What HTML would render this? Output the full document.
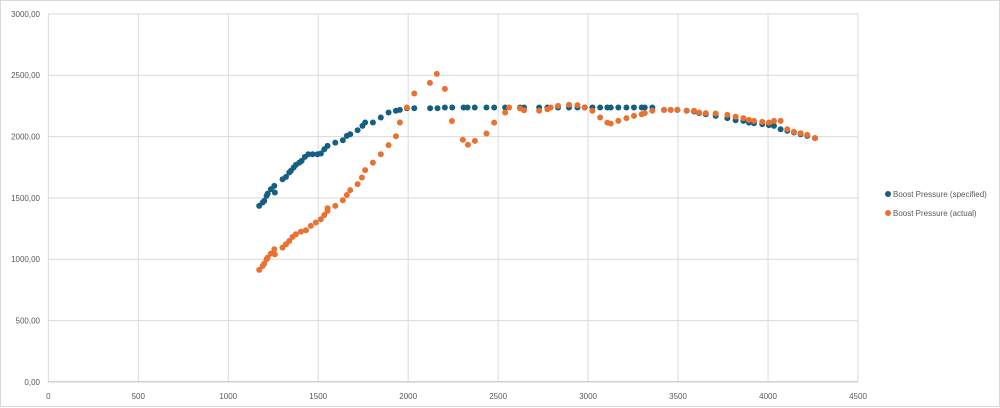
<!DOCTYPE html>
<html><head><meta charset="utf-8"><style>
html,body{margin:0;padding:0;background:#fff;}
#chart{position:absolute;left:0;top:0;width:1000px;height:407px;border:1px solid #d9d9d9;box-sizing:border-box;}
svg{position:absolute;left:0;top:0;font-family:"Liberation Sans",sans-serif;}
</style></head><body>
<div id="chart">
<svg id="svg" width="1000" height="407"></svg>
</div>
<script>
const xTicks=[0,500,1000,1500,2000,2500,3000,3500,4000,4500];
const yTicks=[0,500,1000,1500,2000,2500,3000];
const yTickLabels=["0,00","500,00","1000,00","1500,00","2000,00","2500,00","3000,00"];
const seriesNames=["Boost Pressure (specified)","Boost Pressure (actual)"];
const specX=[1172,1191,1200,1213,1219,1237,1256,1259,1302,1321,1339,1348,1363,1376,1395,1408,1426,1445,1469,1496,1515,1534,1552,1595,1637,1659,1678,1719,1746,1761,1804,1848,1891,1932,1954,1993,2034,2122,2163,2204,2245,2308,2330,2370,2435,2478,2539,2622,2644,2728,2774,2833,2894,2941,2981,3024,3067,3107,3126,3168,3213,3255,3298,3315,3357,3422,3459,3496,3548,3589,3617,3654,3709,3774,3820,3863,3894,3922,3968,4005,4033,4070,4107,4144,4181,4218,4261];
const specY=[1435,1462,1476,1516,1535,1571,1598,1544,1652,1671,1707,1720,1747,1769,1788,1802,1834,1856,1856,1856,1862,1897,1924,1951,1970,2006,2019,2052,2087,2115,2115,2155,2196,2210,2218,2231,2231,2231,2231,2237,2237,2237,2237,2237,2237,2237,2237,2237,2237,2237,2237,2237,2237,2237,2237,2237,2237,2237,2237,2237,2237,2237,2237,2237,2237,2218,2218,2218,2210,2204,2191,2182,2169,2150,2133,2128,2114,2109,2101,2093,2087,2060,2047,2033,2019,2006,1987];
const actX=[1172,1191,1200,1213,1219,1237,1256,1259,1302,1321,1339,1358,1376,1404,1432,1459,1487,1515,1534,1552,1552,1595,1637,1659,1678,1719,1743,1761,1804,1848,1891,1932,1954,1993,2034,2121,2159,2204,2243,2304,2332,2371,2435,2478,2539,2561,2622,2644,2728,2774,2792,2833,2894,2941,2981,3024,3067,3107,3126,3168,3213,3255,3298,3315,3357,3422,3459,3496,3548,3589,3617,3654,3709,3774,3820,3863,3894,3922,3968,4005,4033,4070,4107,4144,4181,4218,4261];
const actY=[913,945,964,1000,1013,1046,1081,1040,1095,1122,1149,1182,1204,1225,1236,1272,1299,1326,1361,1394,1416,1435,1481,1524,1563,1612,1666,1726,1788,1856,1930,2003,2115,2237,2351,2438,2511,2389,2127,1974,1933,1965,2025,2114,2196,2237,2229,2215,2210,2223,2237,2250,2259,2256,2237,2210,2155,2114,2106,2128,2150,2169,2182,2191,2210,2218,2218,2218,2210,2210,2196,2191,2188,2177,2163,2150,2136,2128,2120,2114,2128,2128,2060,2038,2027,2014,1987];
const colors=["#156082","#E97132"];
const NS="http://www.w3.org/2000/svg";
const svg=document.getElementById('svg');
const X0=47.3,XW=809.7,Y0=380.9,YH=368;
function sx(v){return X0+v/4500*XW;}
function sy(v){return Y0-v/3000*YH;}
function mk(tag,attrs){const e=document.createElementNS(NS,tag);for(const k in attrs)e.setAttribute(k,attrs[k]);svg.appendChild(e);return e;}
xTicks.forEach((t,i)=>{
  const l=mk('line',{x1:sx(t),x2:sx(t),y1:sy(3000),y2:sy(0),stroke:'#d9d9d9','stroke-width':1});
  
  
  const tx=mk('text',{x:sx(t),y:398,'font-size':8,fill:'#595959','text-anchor':'middle'});
  tx.textContent=t;
  
  
});
yTicks.forEach((t,i)=>{
  const l=mk('line',{x1:sx(0),x2:sx(4500),y1:sy(t),y2:sy(t),stroke:'#d9d9d9','stroke-width':1});
  
  
  const tx=mk('text',{x:39,y:sy(t)+3,'font-size':8,fill:'#595959','text-anchor':'end'});
  tx.textContent=yTickLabels[i];
  
  
});
const ax=mk('line',{x1:sx(0),x2:sx(4500),y1:sy(0),y2:sy(0),stroke:'#bfbfbf','stroke-width':1});


[[specX,specY],[actX,actY]].forEach((s,si)=>{
  s[0].forEach((xv,j)=>{
    const c=mk('circle',{cx:sx(xv),cy:sy(s[1][j]),r:3,fill:colors[si]});
    
    
  });
});
seriesNames.forEach((n,i)=>{
  const c=mk('circle',{cx:887,cy:193+i*19,r:3,fill:colors[i]});
  
  
  const t=mk('text',{x:892,y:196+i*19,'font-size':8,fill:'#595959'});
  t.textContent=n;
  
  
});
</script>
</body></html>
